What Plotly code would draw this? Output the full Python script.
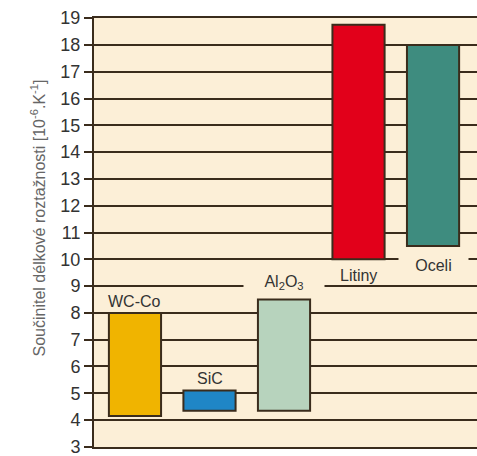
import plotly.graph_objects as go

materials = ["WC-Co", "SiC", "Al<sub>2</sub>O<sub>3</sub>", "Litiny", "Oceli"]
low_values = [4.15, 4.35, 4.35, 10.0, 10.5]
high_values = [8.0, 5.1, 8.5, 18.75, 18.0]
bar_colors = ["#f0b400", "#1f86c6", "#b7d3bd", "#e2001a", "#3e8c7f"]
y_ticks = list(range(3, 20))

# label placement relative to bar ends (pixels)
label_anchor = ["top", "top", "top", "bottom", "bottom"]
label_shift = [11, 12, 17, -16, -20]
label_width = [None, None, 78, None, 67]

plot_bg = "#fcefd7"
line_col = "#3a2c1c"
font_fam = "Liberation Sans, Arial"

x_idx = list(range(len(materials)))
fig = go.Figure()
fig.add_trace(go.Bar(
    x=x_idx,
    base=low_values,
    y=[h - l for h, l in zip(high_values, low_values)],
    width=0.7,
    marker=dict(color=bar_colors, line=dict(color=line_col, width=2)),
    hoverinfo="skip",
))

for i, name in enumerate(materials):
    yv = high_values[i] if label_anchor[i] == "top" else low_values[i]
    ann = dict(
        x=x_idx[i], y=yv, xref="x", yref="y",
        text=name, showarrow=False,
        yanchor="middle", yshift=label_shift[i],
        font=dict(family=font_fam, size=16, color="#333333"),
    )
    if label_width[i]:
        ann["width"] = label_width[i]
        ann["bgcolor"] = plot_bg
    fig.add_annotation(**ann)

fig.add_annotation(
    xref="paper", yref="paper", x=-0.175, y=0.535,
    text="Součinitel délkové roztažnosti [10<sup>-6</sup>.K<sup>-1</sup>]",
    textangle=-90, showarrow=False,
    font=dict(family=font_fam, size=16, color="#666666"),
)

fig.update_layout(
    width=477, height=456,
    margin=dict(l=94, r=0, t=18, b=9),
    paper_bgcolor="white",
    plot_bgcolor=plot_bg,
    showlegend=False,
    xaxis=dict(range=[-0.55, 4.59], showticklabels=False, showgrid=False,
               zeroline=False, showline=True, mirror=True,
               linecolor=line_col, linewidth=2, fixedrange=True),
    yaxis=dict(range=[2.995, 19.005], tickvals=y_ticks, showgrid=True,
               gridcolor=line_col, gridwidth=2, zeroline=False,
               showline=True, linecolor=line_col, linewidth=2,
               ticks="outside", ticklen=8, tickcolor=line_col, tickwidth=2,
               ticklabeloverflow="allow",
               tickfont=dict(family=font_fam, size=18, color="#333333")),
)

fig.write_html("out.html", config={"displayModeBar": False},
               post_script="document.body.style.margin='0';")
